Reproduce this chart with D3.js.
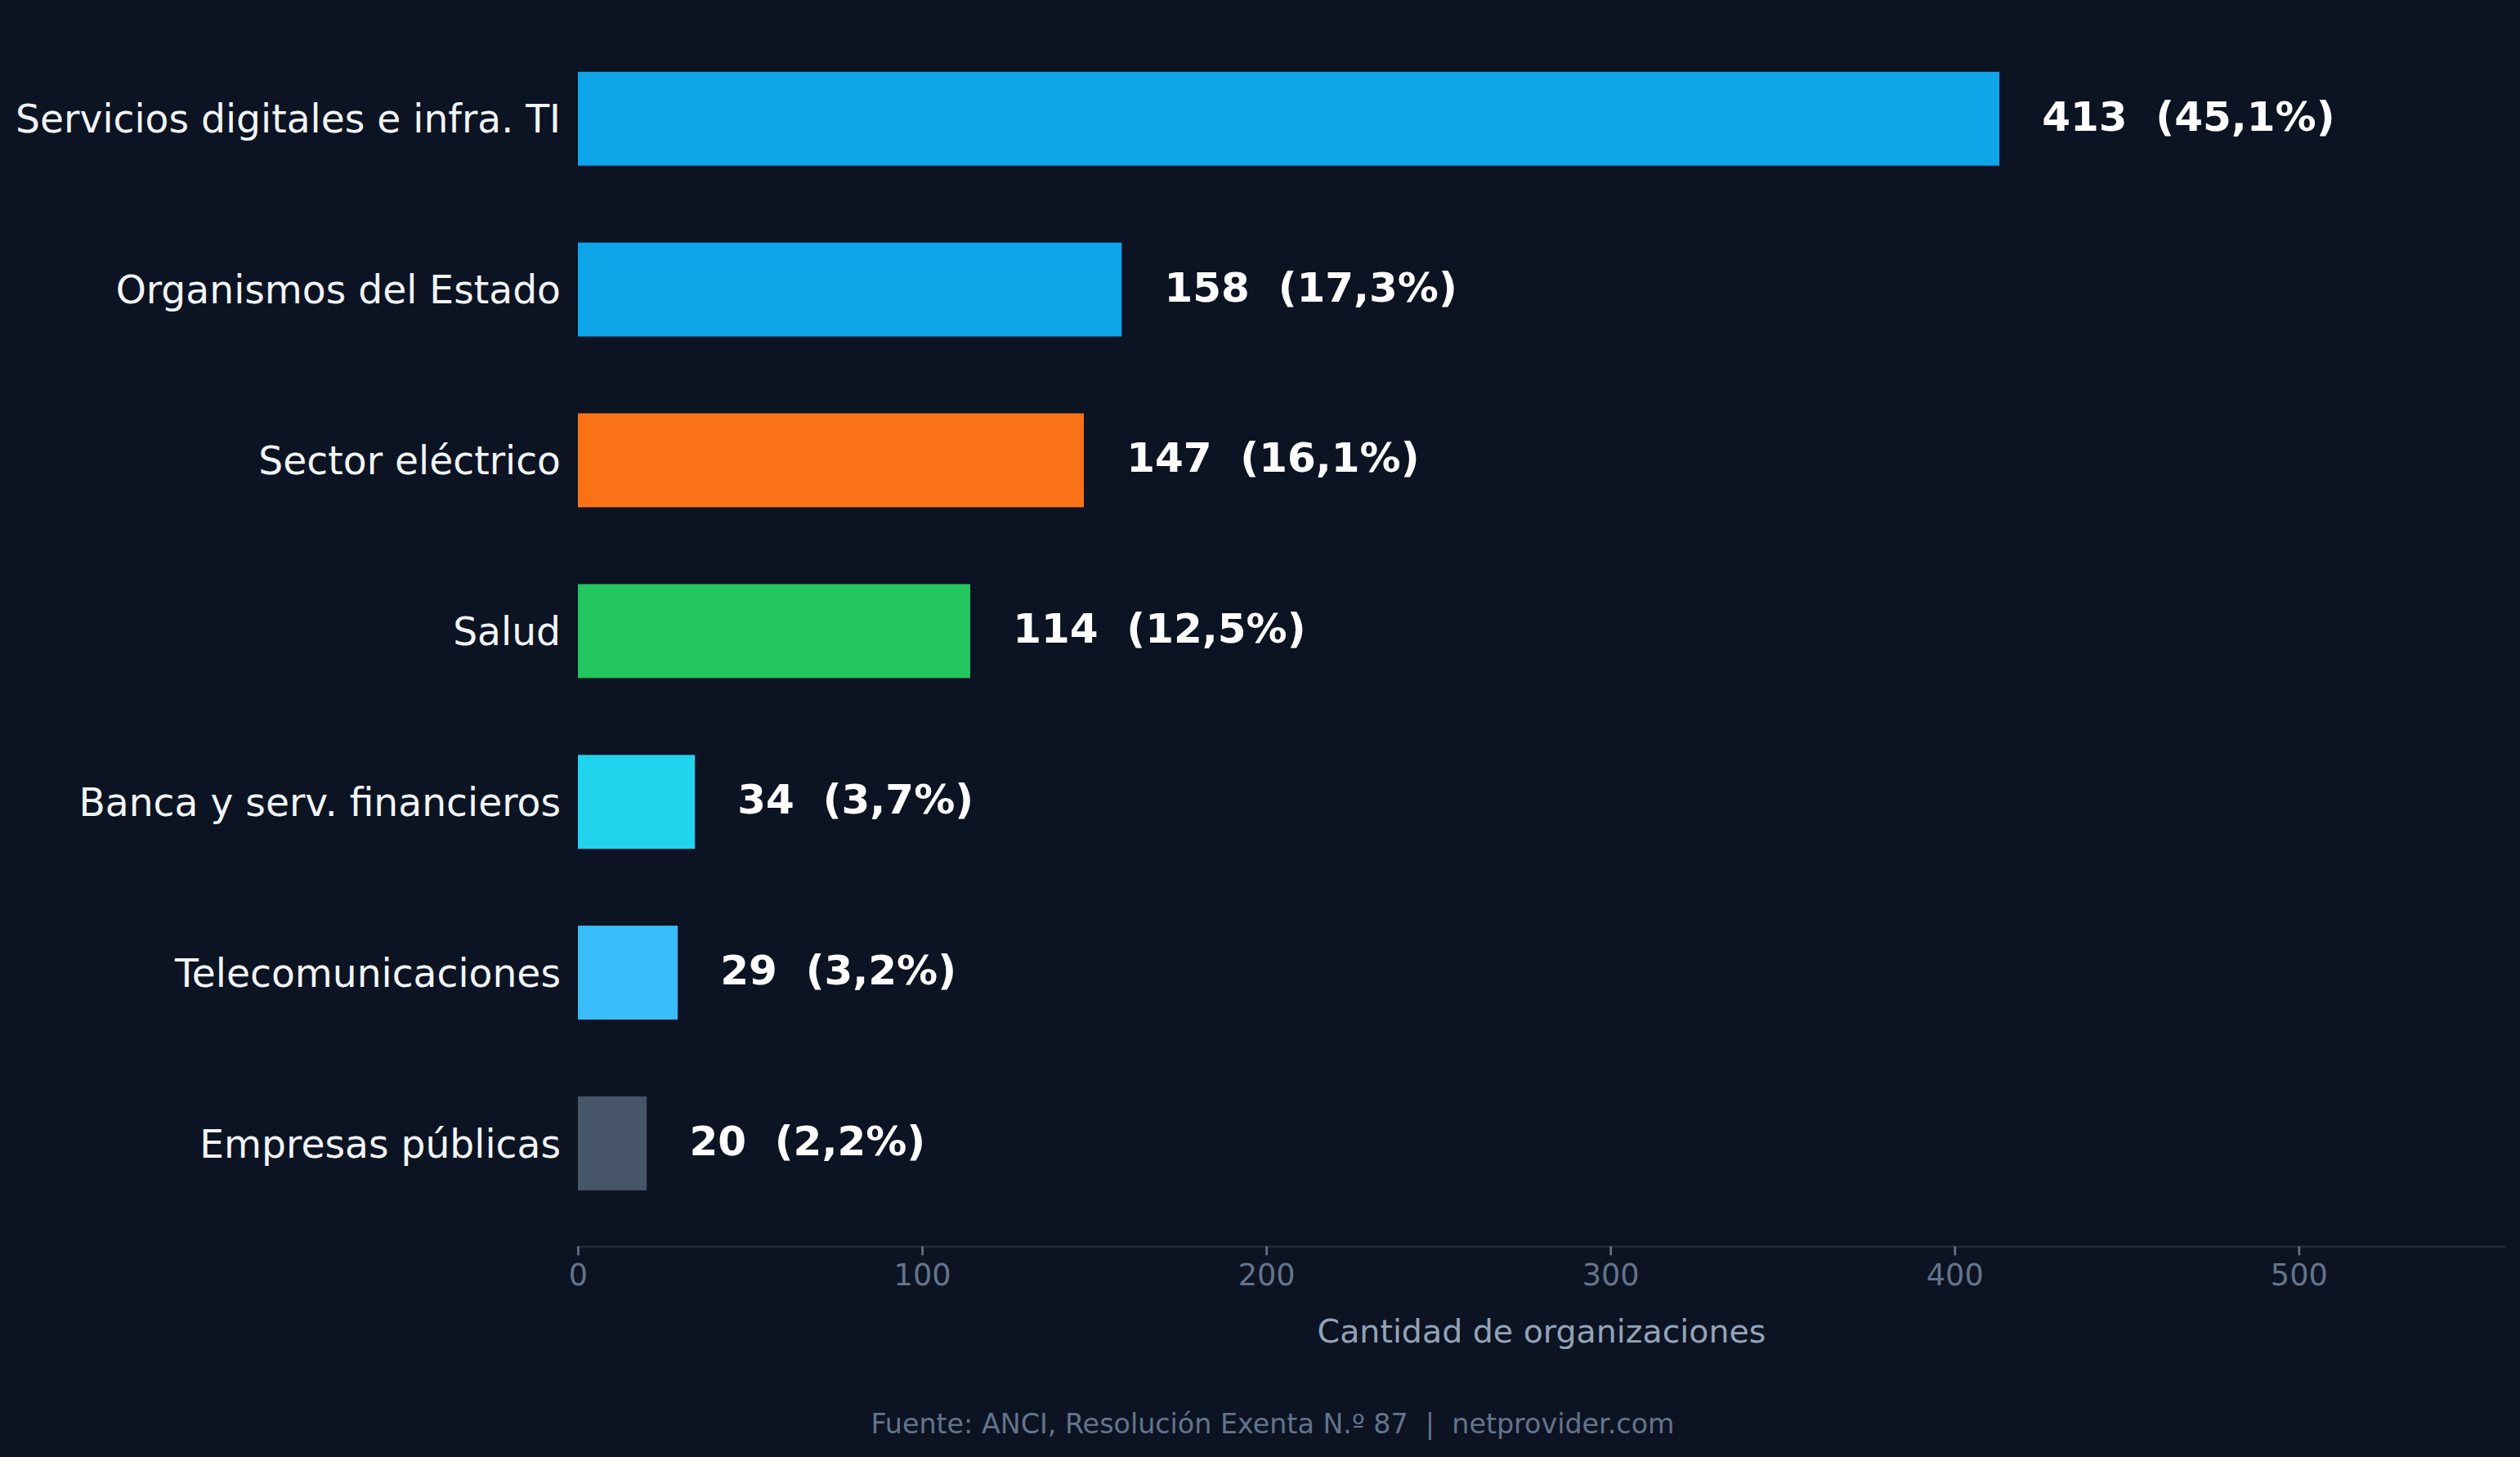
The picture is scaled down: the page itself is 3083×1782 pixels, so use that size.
<!DOCTYPE html>
<html>
<head>
<meta charset="utf-8">
<script src="https://cdn.jsdelivr.net/npm/d3@7"></script>
<style>
body { margin: 0; background: #0c1322; }
svg { display: block; font-family: "DejaVu Sans", sans-serif; }
</style>
</head>
<body>
<div id="chart"></div>
<script>
// data
var categories = ["Servicios digitales e infra. TI", "Organismos del Estado", "Sector eléctrico", "Salud",
    "Banca y serv. financieros", "Telecomunicaciones", "Empresas públicas"]
var values = [413, 158, 147, 114, 34, 29, 20]
var barColors = ["#0ea5e9", "#0ea5e9", "#f97316", "#22c55e", "#22d3ee", "#38bdf8", "#475569"]
var xTicks = [0, 100, 200, 300, 400, 500]
var xMax = 560
var xLabel = "Cantidad de organizaciones"
var source = "Fuente: ANCI, Resolución Exenta N.º 87  |  netprovider.com"

var width = 3083, height = 1782
var margin = {top: 19.4, right: 18, bottom: 257.7, left: 707}
var innerW = width - margin.left - margin.right
var innerH = height - margin.top - margin.bottom

var total = d3.sum(values)
var rows = categories.map(function (c, i) {
    return {cat: c, value: values[i], color: barColors[i]}
})

var svg = d3.select("#chart").append("svg")
    .attr("width", width)
    .attr("height", height)

svg.append("rect")
    .attr("width", width)
    .attr("height", height)
    .attr("fill", "#0c1322")

var g = svg.append("g")
    .attr("transform", "translate(" + margin.left + "," + margin.top + ")")

var x = d3.scaleLinear()
    .domain([0, xMax])
    .range([0, innerW])

var y = d3.scaleBand()
    .domain(categories)
    .range([0, innerH])
    .paddingInner(0.45)
    .paddingOuter(0.3275)

// bars
g.selectAll("rect.bar")
    .data(rows)
    .enter()
    .append("rect")
    .attr("class", "bar")
    .attr("x", x(0))
    .attr("y", function (d) { return y(d.cat) })
    .attr("width", function (d) { return x(d.value) - x(0) })
    .attr("height", y.bandwidth())
    .attr("fill", function (d) { return d.color })

// value labels
var offset = d3.max(values) * 0.03
g.selectAll("text.val")
    .data(rows)
    .enter()
    .append("text")
    .attr("class", "val")
    .attr("x", function (d) { return x(d.value + offset) })
    .attr("y", function (d) { return y(d.cat) + y.bandwidth() / 2 })
    .attr("dy", "0.29em")
    .attr("fill", "#ffffff")
    .attr("font-size", 50)
    .attr("font-weight", "bold")
    .style("white-space", "pre")
    .text(function (d) {
        var pct = (d.value / total * 100).toFixed(1).replace(".", ",")
        return d.value + "  (" + pct + "%)"
    })

// category axis
var yAxis = g.append("g")
    .call(d3.axisLeft(y).tickSize(0).tickPadding(21))
yAxis.select(".domain").remove()
yAxis.selectAll("text")
    .attr("dy", "0.365em")
    .attr("fill", "#f1f5f9")
    .attr("font-size", 47.2)
    .attr("font-family", "DejaVu Sans")

// x axis
var xAxis = g.append("g")
    .attr("transform", "translate(0," + innerH + ")")
    .call(d3.axisBottom(x).tickValues(xTicks).tickSize(11).tickPadding(10.7).tickSizeOuter(0))
xAxis.select(".domain")
    .attr("stroke", "#1e293b")
    .attr("stroke-width", 2.7)
xAxis.selectAll(".tick line")
    .attr("stroke", "#64748b")
    .attr("stroke-width", 2.7)
xAxis.selectAll(".tick text")
    .attr("fill", "#64748b")
    .attr("font-size", 36.67)
    .attr("font-family", "DejaVu Sans")

g.append("text")
    .attr("x", innerW / 2)
    .attr("y", innerH + 118)
    .attr("text-anchor", "middle")
    .attr("fill", "#94a3b8")
    .attr("font-size", 39.5)
    .text(xLabel)

svg.append("text")
    .attr("x", 1557)
    .attr("y", 1753)
    .attr("text-anchor", "middle")
    .attr("fill", "#64748b")
    .attr("font-size", 33.33)
    .style("white-space", "pre")
    .text(source)
</script>
</body>
</html>
